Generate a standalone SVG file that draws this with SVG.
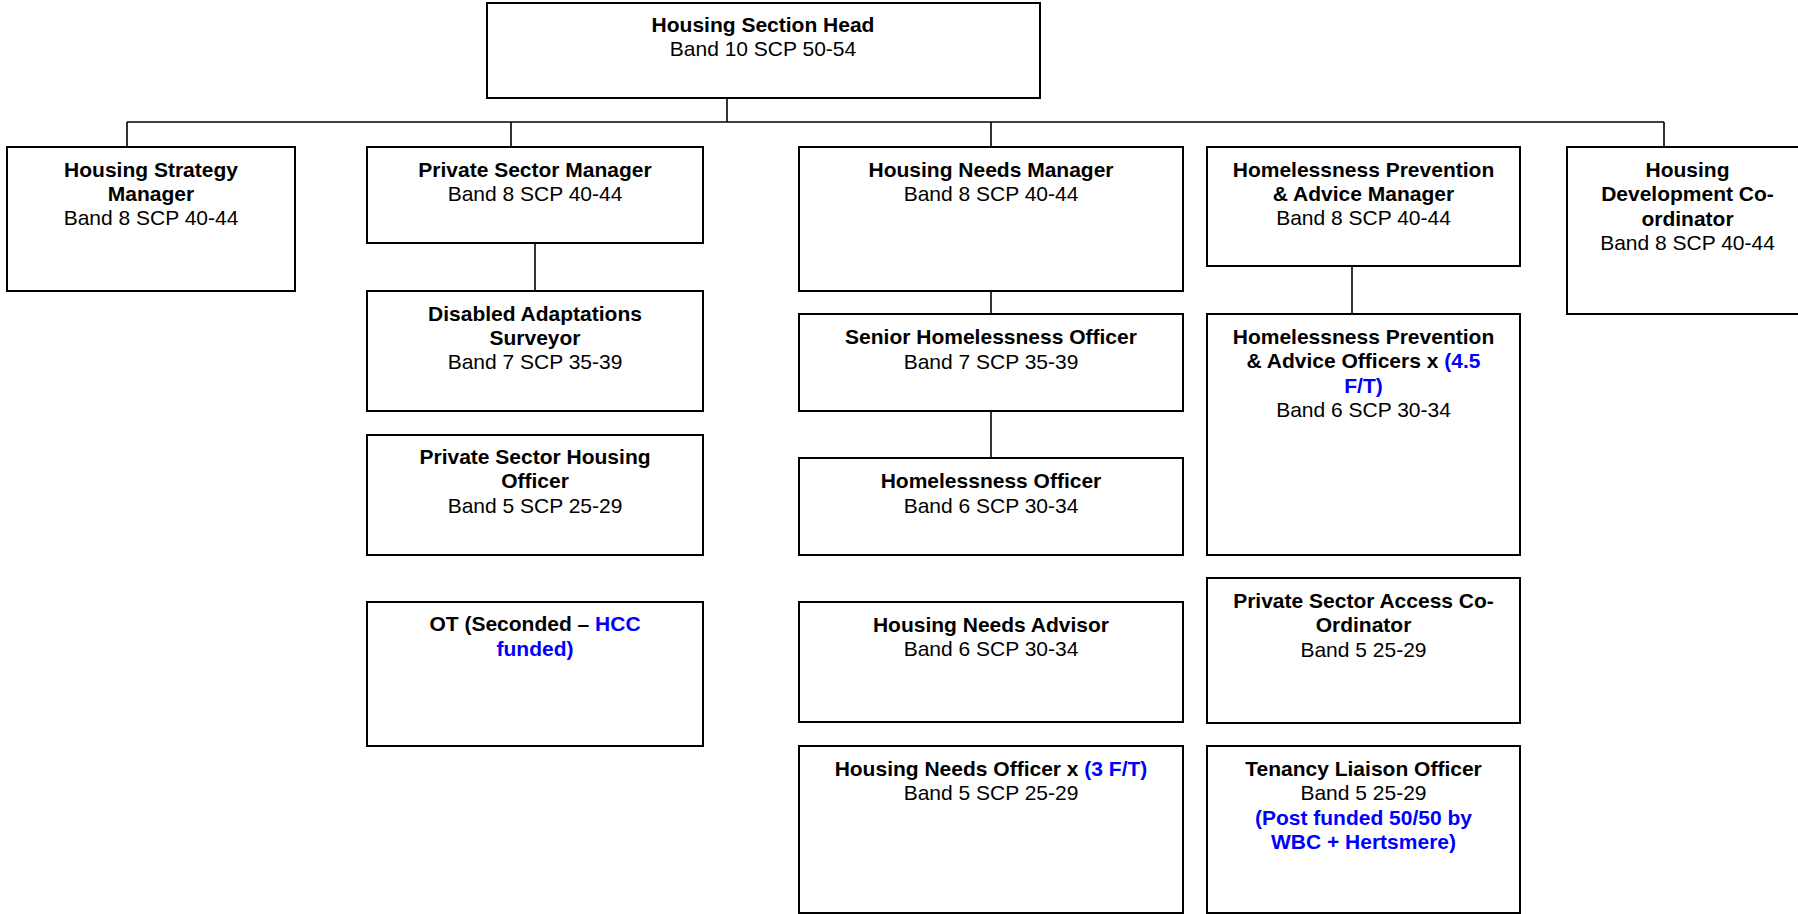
<svg xmlns="http://www.w3.org/2000/svg" width="1798" height="914" viewBox="0 0 1798 914">
<style>
.box{fill:#fff;stroke:#000;stroke-width:2}
.con{fill:none;stroke:#000;stroke-width:1.6}
text{font-family:"Liberation Sans",Arial,sans-serif;font-size:21px;text-anchor:middle;fill:#000}
.b{font-weight:bold}
.blue{fill:#0000ff;font-weight:bold}
</style>
<rect width="1798" height="914" fill="#fff"/>
<g id="connectors">
<path class="con" d="M727,98V122"/>
<path class="con" d="M127,122H1664"/>
<path class="con" d="M127,122V147M511,122V147M991,122V147M1664,122V147"/>
<path class="con" d="M535,243V291"/>
<path class="con" d="M991,291V314"/>
<path class="con" d="M991,411V458"/>
<path class="con" d="M1352,266V314"/>
</g>
<g id="head">
<rect class="box" x="487" y="3" width="553" height="95"/>
<text x="763" y="32"><tspan class="b">Housing Section Head</tspan><tspan x="763" y="56">Band 10 SCP 50-54</tspan></text>
</g>
<g id="hsm">
<rect class="box" x="7" y="147" width="288" height="144"/>
<text x="151" y="177"><tspan class="b">Housing Strategy</tspan><tspan class="b" x="151" y="201">Manager</tspan><tspan x="151" y="225">Band 8 SCP 40-44</tspan></text>
</g>
<g id="psm">
<rect class="box" x="367" y="147" width="336" height="96"/>
<text x="535" y="177"><tspan class="b">Private Sector Manager</tspan><tspan x="535" y="201">Band 8 SCP 40-44</tspan></text>
</g>
<g id="das">
<rect class="box" x="367" y="291" width="336" height="120"/>
<text x="535" y="321"><tspan class="b">Disabled Adaptations</tspan><tspan class="b" x="535" y="345">Surveyor</tspan><tspan x="535" y="369">Band 7 SCP 35-39</tspan></text>
</g>
<g id="psho">
<rect class="box" x="367" y="435" width="336" height="120"/>
<text x="535" y="464"><tspan class="b">Private Sector Housing</tspan><tspan class="b" x="535" y="488">Officer</tspan><tspan x="535" y="513">Band 5 SCP 25-29</tspan></text>
</g>
<g id="ot">
<rect class="box" x="367" y="602" width="336" height="144"/>
<text x="535" y="631"><tspan class="b">OT (Seconded – </tspan><tspan class="blue">HCC</tspan><tspan class="blue" x="535" y="656">funded)</tspan></text>
</g>
<g id="hnm">
<rect class="box" x="799" y="147" width="384" height="144"/>
<text x="991" y="177"><tspan class="b">Housing Needs Manager</tspan><tspan x="991" y="201">Band 8 SCP 40-44</tspan></text>
</g>
<g id="sho">
<rect class="box" x="799" y="314" width="384" height="97"/>
<text x="991" y="344"><tspan class="b">Senior Homelessness Officer</tspan><tspan x="991" y="369">Band 7 SCP 35-39</tspan></text>
</g>
<g id="ho">
<rect class="box" x="799" y="458" width="384" height="97"/>
<text x="991" y="488"><tspan class="b">Homelessness Officer</tspan><tspan x="991" y="513">Band 6 SCP 30-34</tspan></text>
</g>
<g id="hna">
<rect class="box" x="799" y="602" width="384" height="120"/>
<text x="991" y="632"><tspan class="b">Housing Needs Advisor</tspan><tspan x="991" y="656">Band 6 SCP 30-34</tspan></text>
</g>
<g id="hno">
<rect class="box" x="799" y="746" width="384" height="167"/>
<text x="991" y="776"><tspan class="b">Housing Needs Officer x </tspan><tspan class="blue">(3 F/T)</tspan><tspan x="991" y="800">Band 5 SCP 25-29</tspan></text>
</g>
<g id="hpam">
<rect class="box" x="1207" y="147" width="313" height="119"/>
<text x="1363.5" y="177"><tspan class="b">Homelessness Prevention</tspan><tspan class="b" x="1363.5" y="201">&amp; Advice Manager</tspan><tspan x="1363.5" y="225">Band 8 SCP 40-44</tspan></text>
</g>
<g id="hpao">
<rect class="box" x="1207" y="314" width="313" height="241"/>
<text x="1363.5" y="344"><tspan class="b">Homelessness Prevention</tspan><tspan class="b" x="1363.5" y="368">&amp; Advice Officers x </tspan><tspan class="blue">(4.5</tspan><tspan class="blue" x="1363.5" y="393">F/T)</tspan><tspan x="1363.5" y="417">Band 6 SCP 30-34</tspan></text>
</g>
<g id="psac">
<rect class="box" x="1207" y="578" width="313" height="145"/>
<text x="1363.5" y="608"><tspan class="b">Private Sector Access Co-</tspan><tspan class="b" x="1363.5" y="632">Ordinator</tspan><tspan x="1363.5" y="657">Band 5 25-29</tspan></text>
</g>
<g id="tlo">
<rect class="box" x="1207" y="746" width="313" height="167"/>
<text x="1363.5" y="776"><tspan class="b">Tenancy Liaison Officer</tspan><tspan x="1363.5" y="800">Band 5 25-29</tspan><tspan class="blue" x="1363.5" y="825">(Post funded 50/50 by</tspan><tspan class="blue" x="1363.5" y="849">WBC + Hertsmere)</tspan></text>
</g>
<g id="hdc">
<rect class="box" x="1567" y="147" width="241" height="167"/>
<text x="1687.5" y="177"><tspan class="b">Housing</tspan><tspan class="b" x="1687.5" y="201">Development Co-</tspan><tspan class="b" x="1687.5" y="226">ordinator</tspan><tspan x="1687.5" y="250">Band 8 SCP 40-44</tspan></text>
</g>
</svg>
